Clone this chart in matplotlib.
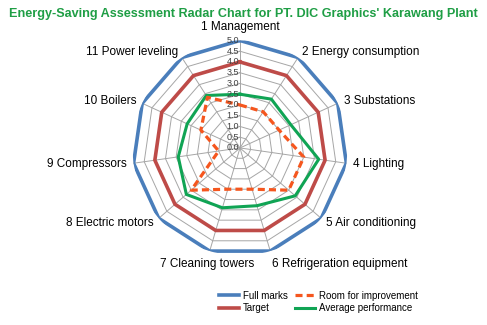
import matplotlib
matplotlib.use("Agg")
import matplotlib.pyplot as plt
import numpy as np
from matplotlib import font_manager

# categories (clockwise from top)
categories = ["1 Management", "2 Energy consumption", "3 Substations", "4 Lighting",
              "5 Air conditioning", "6 Refrigeration equipment", "7 Cleaning towers",
              "8 Electric motors", "9 Compressors", "10 Boilers", "11 Power leveling"]

full_marks = [5.0, 5.0, 5.0, 5.0, 5.0, 5.0, 5.0, 5.0, 5.0, 5.0, 5.0]
target = [4.0, 4.0, 4.0, 4.0, 4.0, 4.0, 4.0, 4.0, 4.0, 4.0, 4.0]
room = [2.0, 2.0, 2.0, 3.0, 3.0, 2.0, 2.0, 3.0, 1.0, 2.0, 2.8]
average = [2.5, 2.7, 2.6, 3.7, 3.4, 2.8, 2.9, 3.3, 2.9, 2.7, 2.9]

ring_values = [0.0, 0.5, 1.0, 1.5, 2.0, 2.5, 3.0, 3.5, 4.0, 4.5, 5.0]

names = set(f.name for f in font_manager.fontManager.ttflist)
if "Liberation Sans Narrow" in names:
    fam = "Liberation Sans Narrow"
    lab_size = 9.5
    title_size = 11.5
else:
    fam = "Liberation Sans"
    lab_size = 8.5
    title_size = 9.1
plt.rcParams["font.family"] = [fam, "DejaVu Sans"]

n = len(categories)
angles = np.arange(n) * 2 * np.pi / n
angles_closed = np.append(angles, angles[0])


def close(vals):
    return list(vals) + [vals[0]]


fig = plt.figure(figsize=(4.87, 3.25), dpi=100)
fig.text(0.5, 0.957, "Energy-Saving Assessment Radar Chart for PT. DIC Graphics' Karawang Plant",
         ha="center", va="center", fontsize=title_size, fontweight="bold", color="#1f9e45")

ax = fig.add_axes([0.272, 0.214, 0.4415, 0.6615], projection="polar")
ax.set_theta_zero_location("N")
ax.set_theta_direction(-1)
ax.set_ylim(0, 5)
ax.grid(False)
ax.set_xticks([])
ax.set_yticks([])
ax.spines["polar"].set_visible(False)
ax.patch.set_alpha(0)

# polygon grid
for r in ring_values[1:]:
    ax.plot(angles_closed, [r] * (n + 1), color="#a6a6a6", lw=0.7, zorder=1)
for a in angles:
    ax.plot([a, a], [0, 5], color="#a6a6a6", lw=0.7, zorder=1)

l1, = ax.plot(angles_closed, close(full_marks), color="#4a7ebb", lw=2.6, zorder=3)
l2, = ax.plot(angles_closed, close(target), color="#be4b48", lw=2.6, zorder=3)
l3, = ax.plot(angles_closed, close(room), color="#f5561e", lw=2.3, ls=(0, (2.2, 1.3)), zorder=4)
l4, = ax.plot(angles_closed, close(average), color="#10a454", lw=2.2, zorder=3)

# radial labels
for r in ring_values:
    ax.annotate("%.1f" % r, (0, r), xytext=(-0.5, 0), textcoords="offset points",
                ha="right", va="center", fontsize=6.5, color="#404040", zorder=5)

# category labels
for i, (a, lab) in enumerate(zip(angles, categories)):
    s = np.sin(a)
    c = np.cos(a)
    if i == 0:
        ax.text(a, 5.35, lab, ha="center", va="bottom", fontsize=lab_size)
    elif i == 5:
        ax.text(a, 5.35, lab, ha="left", va="top", fontsize=lab_size)
    elif i == 6:
        ax.text(a, 5.35, lab, ha="center", va="top", fontsize=lab_size)
    else:
        ha = "left" if s > 0 else "right"
        rr = 5.3
        ax.text(a, rr, lab, ha=ha, va="center", fontsize=lab_size)

fig.legend([l1, l2, l3, l4], ["Full marks", "Target", "Room for improvement", "Average performance"],
           ncol=2, loc="center", bbox_to_anchor=(0.654, 0.071),
           frameon=False, fontsize=7, handlelength=2.0, columnspacing=0.8,
           handletextpad=0.4, labelspacing=0.25)

fig.savefig("out.png", dpi=100)
